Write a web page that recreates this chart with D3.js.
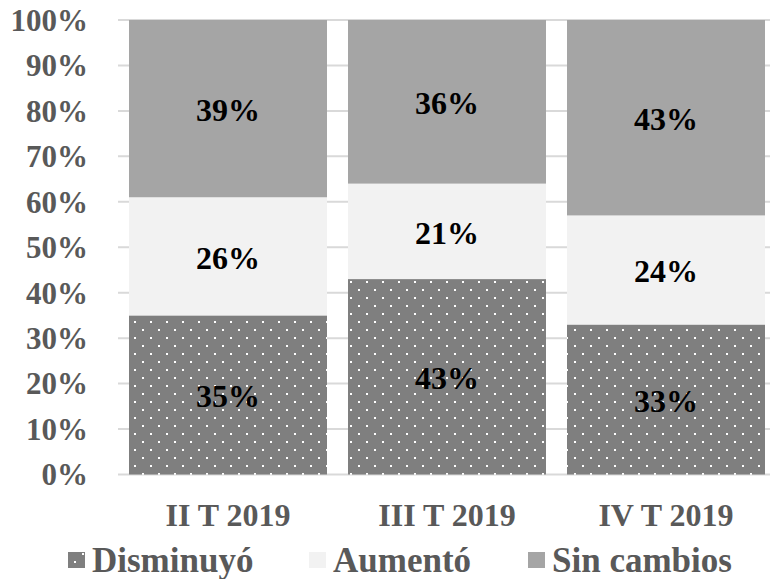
<!DOCTYPE html>
<html><head><meta charset="utf-8">
<script src="https://cdn.jsdelivr.net/npm/d3@7"></script>
<style>body{margin:0;background:#fff}svg{display:block}</style>
</head><body>
<svg id="c" width="770" height="579"></svg>
<script>
const categories = ["II T 2019", "III T 2019", "IV T 2019"];
const seriesNames = ["Disminuyó", "Aumentó", "Sin cambios"];
const disminuyo = [35, 43, 33];
const aumento = [26, 21, 24];
const sinCambios = [39, 36, 43];
const yTicks = [0, 10, 20, 30, 40, 50, 60, 70, 80, 90, 100];

const svg = d3.select("#c");
const font = "Liberation Serif, Times New Roman, serif";
const colors = ["url(#dots)", "#f2f2f2", "#a5a5a5"];

const defs = svg.append("defs");
const pat = defs.append("pattern").attr("id", "dots").attr("patternUnits", "userSpaceOnUse")
  .attr("width", 16).attr("height", 16).attr("x", 6).attr("y", 1);
pat.append("rect").attr("width", 16).attr("height", 16).attr("fill", "#7f7f7f");
pat.append("rect").attr("x", 0).attr("y", 0).attr("width", 2).attr("height", 2).attr("fill", "#fff");
pat.append("rect").attr("x", 8).attr("y", 8).attr("width", 2).attr("height", 2).attr("fill", "#fff");

const y = d3.scaleLinear().domain([0, 100]).range([474.5, 20]);
const p = 21 / 219;
const x = d3.scaleBand().domain(categories).range([118.5, 775.5]).paddingInner(p).paddingOuter(p / 2);

// gridlines
svg.append("g").selectAll("line").data(yTicks).join("line")
  .attr("x1", 118).attr("x2", 770)
  .attr("y1", d => y(d)).attr("y2", d => y(d))
  .attr("stroke", "#d9d9d9").attr("stroke-width", 2);

// y labels
svg.append("g").selectAll("text").data(yTicks).join("text")
  .attr("x", 88).attr("y", d => y(d)).attr("dy", "0.35em")
  .attr("text-anchor", "end").style("font-family", font).style("font-weight", "bold")
  .style("font-size", "31px").attr("fill", "#595959").text(d => d + "%");

const series = [disminuyo, aumento, sinCambios];
const stacked = categories.map((c, i) => {
  let acc = 0;
  return series.map((s, k) => { const d = { c, k, y0: acc, y1: acc + s[i], v: s[i] }; acc += s[i]; return d; });
}).flat();

svg.append("g").selectAll("rect").data(stacked).join("rect")
  .attr("x", d => x(d.c)).attr("width", x.bandwidth())
  .attr("y", d => y(d.y1)).attr("height", d => y(d.y0) - y(d.y1))
  .attr("fill", d => colors[d.k]);

svg.append("g").selectAll("text").data(stacked).join("text")
  .attr("x", d => x(d.c) + x.bandwidth() / 2).attr("y", d => y((d.y0 + d.y1) / 2)).attr("dy", "0.38em")
  .attr("text-anchor", "middle").style("font-family", font).style("font-weight", "bold")
  .style("font-size", "32px").attr("fill", "#000").text(d => d.v + "%");

// category labels
svg.append("g").selectAll("text").data(categories).join("text")
  .attr("x", d => x(d) + x.bandwidth() / 2).attr("y", 515).attr("dy", "0.35em")
  .attr("text-anchor", "middle").style("font-family", font).style("font-weight", "bold")
  .style("font-size", "32px").attr("fill", "#595959").text(d => d);

// legend
const legX = [68, 309, 528];
const lg = svg.append("g").selectAll("g").data(seriesNames).join("g")
  .attr("transform", (d, i) => `translate(${legX[i]},0)`);
lg.append("rect").attr("x", 0).attr("y", 552).attr("width", 17).attr("height", 16)
  .attr("fill", (d, i) => colors[i]);
lg.append("text").attr("x", 24).attr("y", 560).attr("dy", "0.35em")
  .style("font-family", font).style("font-weight", "bold").style("font-size", "35px")
  .attr("fill", "#595959").text(d => d);
</script>
</body></html>
